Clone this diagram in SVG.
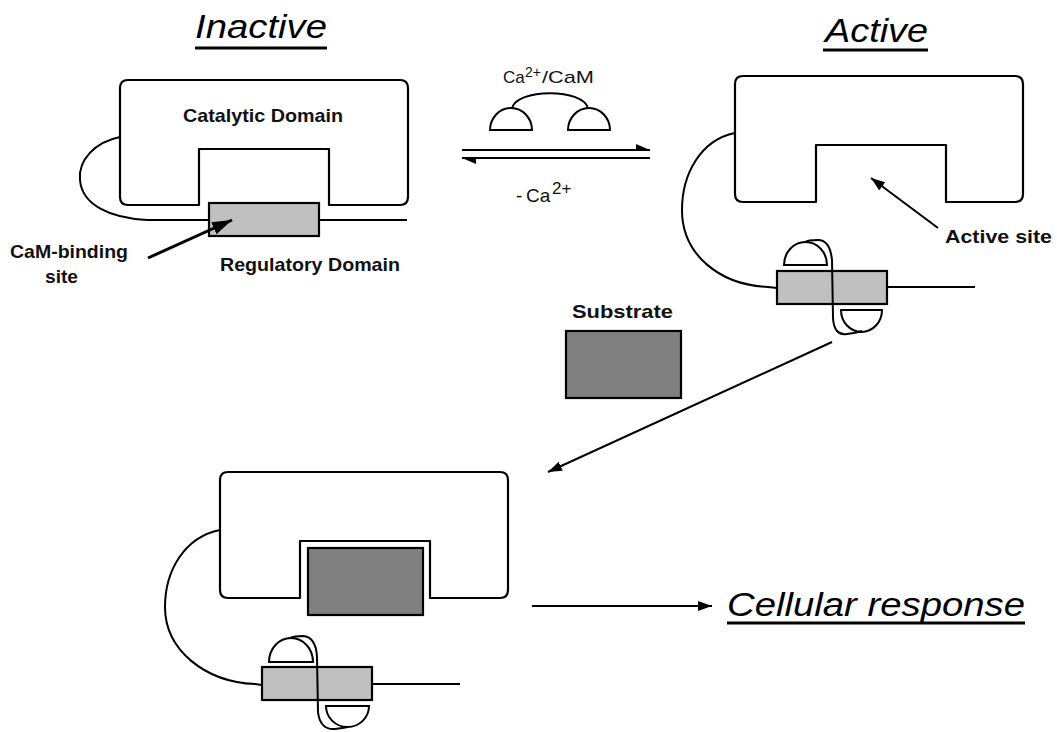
<svg xmlns="http://www.w3.org/2000/svg" width="1057" height="732" viewBox="0 0 1057 732">
<style>
.box{fill:#fff;stroke:#000;stroke-width:2.2;stroke-linejoin:round}
.reg{fill:#c0c0c0;stroke:#000;stroke-width:2.2}
.sub{fill:#808080;stroke:#000;stroke-width:2.2}
.ln{fill:none;stroke:#000;stroke-width:2}
.dome{fill:#fff;stroke:#000;stroke-width:2}
.lbl{font-family:"Liberation Sans",Arial,sans-serif;font-weight:bold;font-size:19px;fill:#111}
.ttl{font-family:"Liberation Sans",Arial,sans-serif;font-style:italic;font-size:33px;fill:#000}
.ul{stroke:#000;stroke-width:3}
.reac{font-family:"Liberation Sans",Arial,sans-serif;fill:#111}
.arr{fill:none;stroke:#000;stroke-width:2}
</style>
<defs>
<marker id="head" markerUnits="userSpaceOnUse" markerWidth="15" markerHeight="11" refX="14" refY="5" orient="auto">
<path d="M0,0 L14,5 L0,10 Z" fill="#000"/>
</marker>
<marker id="headBig" markerUnits="userSpaceOnUse" markerWidth="22" markerHeight="14" refX="20" refY="6.5" orient="auto">
<path d="M0,0 L20,6.5 L0,13 Z" fill="#000"/>
</marker>
</defs>
<rect width="1057" height="732" fill="#fff"/>

<g id="title-inactive">
<text class="ttl" x="195" y="38" textLength="132" lengthAdjust="spacingAndGlyphs">Inactive</text>
<line class="ul" x1="195" y1="48" x2="327" y2="48"/>
</g>
<g id="title-active">
<text class="ttl" x="825" y="42" textLength="103" lengthAdjust="spacingAndGlyphs">Active</text>
<line class="ul" x1="823" y1="50" x2="928" y2="50"/>
</g>

<g id="inactive-enzyme">
<path class="ln" d="M120,137 C95,142 78,160 80,180 C82,205 110,218 147,220 H209"/>
<path class="ln" d="M319,220 H407"/>
<path class="box" d="M128,80 H400 Q408,80 408,88 V197 Q408,205 400,205 H329 V149 H199 V205 H128 Q120,205 120,197 V88 Q120,80 128,80 Z"/>
<rect class="reg" x="209" y="203" width="110" height="33"/>
<text class="lbl" x="183" y="122" textLength="160" lengthAdjust="spacingAndGlyphs">Catalytic Domain</text>
<text class="lbl" x="220" y="271" textLength="180" lengthAdjust="spacingAndGlyphs">Regulatory Domain</text>
</g>

<g id="cam-binding-label">
<text class="lbl" x="10" y="258" textLength="118" lengthAdjust="spacingAndGlyphs">CaM-binding</text>
<text class="lbl" x="45" y="283" textLength="33" lengthAdjust="spacingAndGlyphs">site</text>
</g>

<g id="calmodulin">
<text class="reac" x="503" y="83" font-size="17">Ca</text>
<text class="reac" x="525" y="77" font-size="14">2+</text>
<text class="reac" x="542" y="83" font-size="17" textLength="52" lengthAdjust="spacingAndGlyphs">/CaM</text>
<path class="ln" d="M512,109 C515,88 585,88 588,109"/>
<path class="dome" d="M490,130 A21,22 0 0 1 532,130 Z"/>
<path class="dome" d="M568,130 A21,22 0 0 1 610,130 Z"/>
</g>

<g id="remove-ca">
<text class="reac" x="516" y="202" font-size="19">-</text>
<text class="reac" x="526" y="202" font-size="19">Ca</text>
<text class="reac" x="552" y="194" font-size="17">2+</text>
</g>

<g id="active-enzyme">
<path class="ln" d="M735,133 C700,140 682,175 682,210 C682,255 720,285 768,287 L777,288"/>
<path class="ln" d="M887,287 H975"/>
<path class="box" d="M743,76 H1015 Q1023,76 1023,84 V194 Q1023,202 1015,202 H946 V145 H816 V202 H743 Q735,202 735,194 V84 Q735,76 743,76 Z"/>
<path class="dome" d="M784,265 A21.5,23 0 0 1 827,265 Z"/>
<path class="dome" d="M841,310 A20.5,22 0 0 0 882,310 Z"/>
<rect class="reg" x="777" y="271" width="110" height="33"/>
<path class="ln" d="M805,242 Q808,240 818,240 Q830,240 832,260 L833,318 Q834,336 847,334 Q856,333 862,331"/>
</g>
<g id="active-site-label">
<text class="lbl" x="945" y="243" textLength="107" lengthAdjust="spacingAndGlyphs">Active site</text>
</g>

<g id="substrate">
<text class="lbl" x="572" y="318" textLength="101" lengthAdjust="spacingAndGlyphs">Substrate</text>
<rect class="sub" x="566" y="331" width="115" height="67"/>
</g>

<g id="enzyme-substrate-complex">
<path class="ln" d="M220,530 C185,537 165,570 165,607 C165,650 205,682 255,684 L262,685"/>
<path class="ln" d="M372,684 H460"/>
<path class="box" d="M228,472 H500 Q508,472 508,480 V590 Q508,598 500,598 H430 V541 H300 V598 H228 Q220,598 220,590 V480 Q220,472 228,472 Z"/>
<rect class="sub" x="308" y="548" width="115" height="67"/>
<path class="dome" d="M269,662 A22,24 0 0 1 313,662 Z"/>
<path class="dome" d="M326,706 A21.5,21 0 0 0 369,706 Z"/>
<rect class="reg" x="262" y="667" width="110" height="33"/>
<path class="ln" d="M290,638 Q294,636 303,636 Q316,637 317,657 L318,712 Q320,730 335,729 Q343,728 348,727"/>
</g>

<g id="title-cellular-response">
<text class="ttl" x="727" y="616" textLength="298" lengthAdjust="spacingAndGlyphs">Cellular response</text>
<line class="ul" x1="727" y1="623" x2="1025" y2="623"/>
</g>

<g id="connectors">
<path class="arr" d="M462,150 H650"/>
<polygon points="650,150 636,144 636,150" fill="#000"/>
<path class="arr" d="M462,158 H650"/>
<polygon points="462,158 476,164 476,158" fill="#000"/>
<line x1="148" y1="258" x2="232" y2="220" stroke="#000" stroke-width="3" marker-end="url(#headBig)"/>
<line class="arr" x1="938" y1="228" x2="871" y2="178" marker-end="url(#head)"/>
<line class="arr" x1="832" y1="342" x2="548" y2="472" marker-end="url(#head)"/>
<line class="arr" x1="532" y1="606" x2="712" y2="606" marker-end="url(#head)"/>
</g>
</svg>
